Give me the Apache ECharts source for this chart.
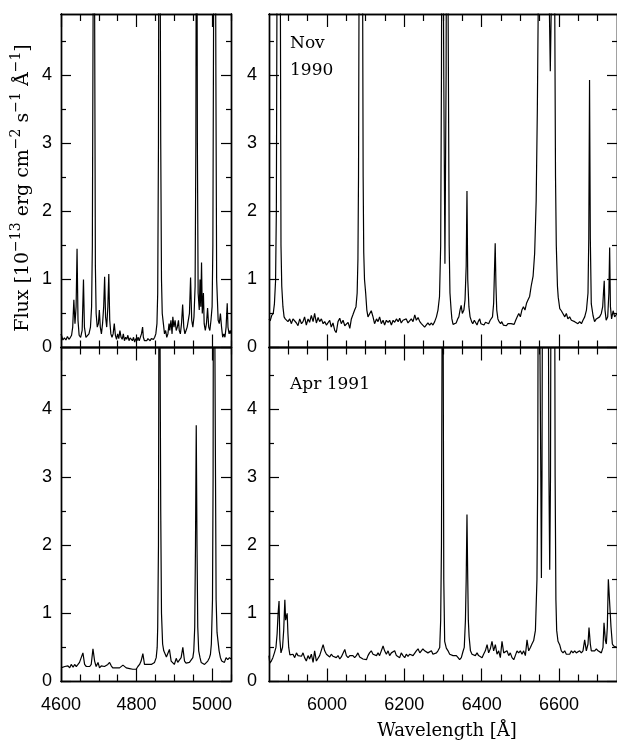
<!DOCTYPE html>
<html><head><meta charset="utf-8">
<script src="https://cdn.jsdelivr.net/npm/echarts@6/dist/echarts.min.js"></script>
<style>html,body{margin:0;padding:0;background:#fff}#c{width:617px;height:740px}</style>
</head><body><div id="c"></div>
<script>
// ---- data ----
const blueRange = [4600, 5050];
const redRange = [5850, 6750];
const fluxRange = [0, 4.9];
const blueMajorTicks = [4600, 4800, 5000];
const blueMinorTicks = [4650, 4700, 4750, 4850, 4900, 4950, 5050];
const redMajorTicks = [6000, 6200, 6400, 6600];
const redMinorTicks = [5900, 5950, 6050, 6100, 6150, 6250, 6300, 6350, 6450, 6500, 6550, 6650, 6700];
const fluxMajorTicks = [0, 1, 2, 3, 4];
const fluxMinorTicks = [0.5, 1.5, 2.5, 3.5, 4.5];
const epochLabels = ['Nov', '1990', 'Apr 1991'];
const xTitle = 'Wavelength [Å]';

const nov1990Blue = [[4600,0.2],[4602,0.22],[4605,0.11],[4609,0.14],[4613,0.11],[4617,0.16],[4621,0.12],[4625,0.15],[4628,0.18],[4631,0.3],[4634,0.7],[4637,0.35],[4640,0.6],[4642.5,1.45],[4645,0.4],[4648,0.18],[4652,0.15],[4656,0.25],[4659.5,1.0],[4662,0.3],[4666,0.15],[4670,0.16],[4674,0.2],[4678,0.3],[4681,0.6],[4683,1.5],[4685,5],[4687,9],[4689,5],[4691,1.2],[4693,0.5],[4696,0.3],[4699,0.35],[4701.5,0.55],[4704,0.3],[4707,0.2],[4710,0.35],[4713,0.6],[4715.5,1.04],[4718,0.45],[4721,0.3],[4724,0.6],[4726.5,1.08],[4729,0.4],[4732,0.2],[4735,0.15],[4738,0.2],[4741,0.35],[4744,0.18],[4747,0.12],[4750,0.2],[4753,0.13],[4756,0.25],[4759,0.15],[4762,0.12],[4765,0.2],[4768,0.1],[4771,0.15],[4774,0.12],[4777,0.18],[4780,0.1],[4783,0.14],[4786,0.12],[4789,0.1],[4792,0.15],[4795,0.08],[4798,0.13],[4801,0.1],[4804,0.15],[4807,0.1],[4810,0.12],[4813,0.2],[4816,0.3],[4818,0.15],[4821,0.1],[4824,0.12],[4827,0.1],[4830,0.13],[4833,0.12],[4836,0.1],[4839,0.13],[4842,0.11],[4845,0.12],[4848,0.15],[4851,0.2],[4854,0.35],[4856,0.8],[4858,3],[4860,10],[4862,10],[4864,3],[4866,1.0],[4868,0.5],[4871,0.35],[4874,0.2],[4877,0.25],[4880,0.15],[4883,0.2],[4886,0.35],[4888,0.25],[4891,0.4],[4894,0.2],[4896,0.45],[4899,0.3],[4902,0.4],[4905,0.25],[4908,0.3],[4911,0.4],[4913,0.25],[4916,0.2],[4919,0.35],[4922,0.63],[4925,0.3],[4928,0.2],[4931,0.25],[4934,0.3],[4937,0.3],[4940,0.5],[4943,1.03],[4946,0.4],[4949,0.3],[4952,0.45],[4955,0.9],[4957,3],[4959,9],[4961,3],[4963,0.8],[4966,0.55],[4968,1.0],[4970,0.6],[4972,1.25],[4974,0.5],[4977,0.8],[4979,0.35],[4982,0.25],[4985,0.35],[4988,0.58],[4991,0.3],[4994,0.25],[4997,0.4],[5000,0.6],[5002,1.5],[5004,5],[5006,12],[5008,12],[5010,4],[5012,1.0],[5014,0.7],[5016,0.4],[5019,0.35],[5022,0.5],[5025,0.3],[5028,0.15],[5031,0.2],[5034,0.15],[5037,0.3],[5040,0.65],[5042,0.3],[5045,0.2],[5048,0.25],[5050,0.2]];

const nov1990Red = [[5850,0.42],[5853,0.39],[5857,0.47],[5861,0.5],[5864,0.64],[5867,0.98],[5869,2],[5870.5,5],[5873,9],[5877,9],[5879.5,5],[5881,1.5],[5883,0.9],[5886,0.6],[5889,0.45],[5892,0.42],[5895,0.4],[5899,0.38],[5903.5,0.42],[5908,0.35],[5912,0.42],[5916.5,0.4],[5921,0.36],[5925,0.32],[5929.5,0.42],[5934,0.35],[5938,0.38],[5942,0.45],[5946.5,0.33],[5951,0.42],[5955,0.37],[5959.5,0.47],[5964,0.38],[5968,0.5],[5972.5,0.36],[5977,0.44],[5981,0.38],[5985.5,0.42],[5990,0.35],[5994,0.38],[5998.5,0.33],[6003,0.35],[6007,0.4],[6011,0.3],[6015.5,0.36],[6020,0.25],[6024,0.22],[6028.5,0.38],[6033,0.43],[6037,0.35],[6041.5,0.4],[6046,0.32],[6050,0.3],[6054.5,0.37],[6059,0.28],[6063,0.42],[6067,0.48],[6071.5,0.55],[6075,0.6],[6078,0.8],[6080,1.3],[6081.5,2.5],[6083,5.5],[6086,9],[6089,9],[6092,5.5],[6093.5,2.5],[6095,1.4],[6097,1.0],[6100,0.8],[6103,0.55],[6106,0.45],[6110,0.45],[6114.5,0.54],[6119,0.45],[6123,0.35],[6128,0.42],[6132,0.38],[6136,0.45],[6140.5,0.35],[6145,0.4],[6149,0.33],[6153.5,0.4],[6158,0.37],[6162,0.4],[6166.5,0.33],[6171,0.4],[6175,0.37],[6179.5,0.42],[6184,0.38],[6188,0.43],[6192,0.36],[6196.5,0.4],[6201,0.38],[6205,0.42],[6209.5,0.36],[6214,0.38],[6218,0.42],[6222.5,0.38],[6227,0.48],[6231,0.4],[6235.5,0.44],[6240,0.38],[6244,0.35],[6248,0.35],[6252.5,0.3],[6257,0.3],[6261,0.36],[6265.5,0.33],[6270,0.36],[6274,0.33],[6278.5,0.38],[6283,0.45],[6287,0.55],[6291,0.75],[6294,1.5],[6296,4],[6298,9],[6300,9],[6302,4],[6305,1.23],[6308,4],[6310,9],[6312,9],[6314,4],[6316,1.5],[6318,0.8],[6321,0.55],[6323,0.42],[6326,0.34],[6330,0.33],[6334,0.36],[6338,0.42],[6341,0.45],[6344,0.55],[6347,0.62],[6350,0.5],[6354,0.55],[6357,0.7],[6360,1.2],[6362,2.3],[6364,1.0],[6367,0.6],[6370,0.45],[6374,0.38],[6377,0.35],[6381,0.4],[6384,0.42],[6388,0.33],[6391,0.38],[6395,0.42],[6398,0.35],[6402,0.37],[6406,0.33],[6410,0.37],[6414,0.38],[6418,0.35],[6422,0.4],[6425,0.38],[6428,0.45],[6431,0.65],[6433,1.1],[6435,1.53],[6437,0.9],[6439,0.55],[6442,0.42],[6445,0.38],[6449,0.35],[6452,0.38],[6456,0.33],[6460,0.35],[6464,0.32],[6468,0.35],[6472,0.33],[6476,0.35],[6480,0.33],[6484,0.34],[6488,0.4],[6492,0.45],[6496,0.5],[6500,0.45],[6504,0.55],[6508,0.6],[6512,0.55],[6516,0.65],[6520,0.7],[6524,0.75],[6528,0.9],[6533,1.05],[6537,1.38],[6541,2.16],[6544,3.5],[6547,5.5],[6550,9],[6560,12],[6572,8],[6575,5],[6577.5,4.06],[6580,5],[6583,9],[6587,8],[6589,5],[6591,2.5],[6593,1.5],[6596,0.9],[6598,0.74],[6602,0.57],[6606,0.54],[6610,0.5],[6615,0.45],[6619,0.5],[6623,0.42],[6627.5,0.45],[6632,0.4],[6636,0.42],[6640.5,0.38],[6645,0.4],[6649,0.35],[6653.5,0.38],[6658,0.35],[6662,0.4],[6666.5,0.45],[6671,0.55],[6675,0.8],[6677,1.6],[6679,3.93],[6681,1.6],[6683.5,0.64],[6688,0.47],[6692,0.38],[6696.5,0.42],[6701,0.4],[6705,0.45],[6709.5,0.5],[6713,0.6],[6715,0.8],[6717,0.98],[6719,0.55],[6722,0.4],[6726,0.45],[6729,0.8],[6731,1.47],[6733,0.6],[6736,0.42],[6740,0.54],[6744,0.45],[6750,0.5]];

const apr1991Blue = [[4600,0.2],[4605,0.18],[4610,0.22],[4614,0.2],[4618.5,0.23],[4623,0.2],[4627,0.25],[4632,0.21],[4636,0.25],[4640.5,0.22],[4645,0.25],[4649,0.28],[4654,0.3],[4658,0.42],[4662.5,0.25],[4667,0.22],[4671,0.24],[4676,0.22],[4680,0.25],[4684.6,0.48],[4689,0.3],[4693,0.22],[4698,0.28],[4702,0.2],[4706.6,0.23],[4711,0.21],[4715,0.22],[4720,0.2],[4724,0.25],[4728.6,0.28],[4733,0.23],[4737,0.2],[4742,0.22],[4746,0.2],[4750.7,0.18],[4755,0.2],[4759.5,0.18],[4764,0.24],[4768,0.26],[4772.7,0.2],[4777,0.22],[4781.5,0.19],[4786,0.2],[4790,0.18],[4794.7,0.2],[4799,0.18],[4803.5,0.22],[4808,0.25],[4812,0.3],[4816.7,0.41],[4821,0.25],[4825.6,0.23],[4830,0.25],[4834,0.24],[4839,0.25],[4843,0.25],[4847.6,0.28],[4852,0.35],[4854.6,0.5],[4856,0.8],[4858,2],[4860,8],[4862.6,8],[4864,2.5],[4866,1.0],[4869,0.55],[4872,0.45],[4876,0.4],[4879,0.36],[4883,0.35],[4887,0.47],[4891.6,0.3],[4896,0.28],[4900,0.25],[4905,0.34],[4909,0.28],[4913.6,0.3],[4918,0.35],[4922.5,0.5],[4927,0.3],[4931,0.27],[4935.7,0.25],[4940,0.28],[4944.5,0.3],[4949,0.35],[4951.5,0.45],[4954,0.8],[4956,2],[4958,3.76],[4960,2],[4962,0.8],[4964.5,0.45],[4968,0.35],[4971,0.28],[4975,0.3],[4980,0.25],[4984,0.27],[4988.5,0.3],[4993,0.35],[4995.6,0.4],[4998,0.55],[5001,1.2],[5002.6,3],[5004,9],[5007,9],[5009,3],[5010.6,1.2],[5013,0.72],[5016,0.7],[5018.5,0.45],[5022,0.35],[5025.5,0.3],[5029,0.32],[5032.6,0.28],[5037,0.35],[5041.4,0.32],[5046,0.35],[5050,0.33]];

const apr1991Red = [[5850,0.38],[5852,0.27],[5856,0.3],[5860,0.35],[5864,0.42],[5868,0.5],[5871,0.7],[5873.5,1.0],[5876,1.18],[5878,0.62],[5881,0.42],[5885,0.5],[5888,0.75],[5891,1.2],[5893,0.9],[5895,0.95],[5897,1.0],[5899,0.7],[5901,0.5],[5904,0.39],[5908,0.38],[5912,0.4],[5916.5,0.35],[5921,0.42],[5925,0.38],[5929.5,0.4],[5934,0.37],[5938,0.42],[5942,0.35],[5946.5,0.3],[5951,0.38],[5955,0.33],[5959.5,0.4],[5964,0.28],[5968,0.45],[5972.5,0.3],[5977,0.28],[5981,0.38],[5985.5,0.4],[5990,0.54],[5994,0.45],[5998.5,0.4],[6003,0.42],[6007,0.36],[6011,0.4],[6015.5,0.37],[6020,0.38],[6024,0.35],[6028.5,0.38],[6033,0.33],[6037,0.36],[6041.5,0.38],[6046,0.47],[6050,0.38],[6054.5,0.35],[6059,0.38],[6063,0.36],[6067,0.38],[6071.5,0.35],[6076,0.38],[6080,0.42],[6084.5,0.36],[6089,0.38],[6093,0.33],[6097.5,0.35],[6102,0.32],[6106,0.38],[6110,0.42],[6114.5,0.45],[6119,0.4],[6123,0.42],[6128,0.38],[6132,0.42],[6136,0.38],[6140.5,0.4],[6145,0.52],[6149,0.45],[6153.5,0.4],[6158,0.45],[6162,0.38],[6166.5,0.42],[6171,0.4],[6175,0.45],[6179.5,0.38],[6184,0.4],[6188,0.35],[6192,0.42],[6196.5,0.38],[6201,0.35],[6205,0.4],[6209.5,0.37],[6214,0.4],[6218,0.42],[6222.5,0.38],[6227,0.4],[6231,0.45],[6235.5,0.48],[6240,0.42],[6244,0.45],[6248,0.48],[6252.5,0.45],[6257,0.47],[6261,0.42],[6265.5,0.4],[6270,0.45],[6274,0.4],[6278.5,0.38],[6283,0.42],[6287,0.45],[6291.5,0.5],[6294,0.9],[6296,2],[6297.5,5],[6299,10],[6300.5,5],[6302,1.5],[6304.3,0.59],[6308.6,0.49],[6313,0.45],[6317.3,0.4],[6321.6,0.42],[6326,0.38],[6330,0.36],[6334.5,0.38],[6339,0.35],[6343,0.32],[6347.4,0.35],[6351.7,0.44],[6355,0.5],[6358,0.9],[6360,1.5],[6362,2.45],[6364,1.5],[6365.5,0.9],[6367.5,0.66],[6371,0.45],[6375,0.4],[6379,0.42],[6383.6,0.38],[6388,0.42],[6392,0.38],[6396.6,0.4],[6401,0.35],[6405,0.4],[6409.5,0.45],[6414,0.54],[6418,0.42],[6422.4,0.48],[6426.7,0.59],[6431,0.45],[6435.4,0.54],[6439.7,0.4],[6444,0.45],[6448.3,0.35],[6452.6,0.59],[6457,0.42],[6461,0.4],[6465.5,0.45],[6470,0.38],[6474,0.42],[6478.5,0.35],[6483,0.32],[6487,0.38],[6491.4,0.45],[6495.7,0.42],[6500,0.45],[6504.3,0.4],[6508.6,0.45],[6513,0.38],[6517.3,0.61],[6521.6,0.45],[6526,0.5],[6530,0.55],[6534.5,0.6],[6539,0.75],[6543,1.5],[6545,3],[6547,8],[6551,8],[6553,3],[6554.5,1.52],[6556,3],[6558,8],[6571,8],[6574,3],[6576,1.64],[6578,3],[6580,8],[6588,8],[6590,3],[6592,1.2],[6594,0.75],[6597.4,0.59],[6601.7,0.54],[6606,0.45],[6610.4,0.42],[6614.7,0.45],[6619,0.4],[6623.3,0.42],[6627.6,0.4],[6632,0.45],[6636.2,0.42],[6640.5,0.45],[6644.8,0.42],[6649,0.44],[6653.5,0.45],[6657.8,0.42],[6662,0.45],[6666.4,0.61],[6670.7,0.45],[6675,0.55],[6677.6,0.79],[6681,0.55],[6683.6,0.45],[6688,0.47],[6692.3,0.45],[6696.6,0.48],[6701,0.45],[6705,0.45],[6709.5,0.42],[6713.8,0.5],[6716.4,0.86],[6720,0.6],[6722.4,0.55],[6725,0.8],[6727.6,1.5],[6732,1.52],[6734.5,0.8],[6738,0.55],[6741.4,0.52],[6745,0.5],[6750,0.5]];

// ---- chart ----
const chart = echarts.init(document.getElementById('c'), null, {renderer: 'canvas'});
const black = '#000';
const grids = [
  {left: 61, top: 14, width: 170, height: 333.5},
  {left: 269, top: 14, width: 348, height: 333.5},
  {left: 61, top: 347.5, width: 170, height: 334},
  {left: 269, top: 347.5, width: 348, height: 334}
];
const panels = [
  {data: nov1990Blue, range: blueRange, major: blueMajorTicks, minor: blueMinorTicks, showX: false, yMargin: 9},
  {data: nov1990Red, range: redRange, major: redMajorTicks, minor: redMinorTicks, showX: false, yMargin: 12},
  {data: apr1991Blue, range: blueRange, major: blueMajorTicks, minor: blueMinorTicks, showX: true, yMargin: 9},
  {data: apr1991Red, range: redRange, major: redMajorTicks, minor: redMinorTicks, showX: true, yMargin: 12}
];
const labelFont = {fontSize: 18, color: black, fontFamily: '"Liberation Sans", Arial, sans-serif'};
const plain = v => String(v);
const xAxes = [], yAxes = [], series = [];
function tick(len, vals) {
  return {show: true, inside: true, length: len, customValues: vals, lineStyle: {color: black, width: 1.2}};
}
panels.forEach((p, g) => {
  const line = {show: true, onZero: false, lineStyle: {color: black, width: 1.4}};
  const xb = {type: 'value', gridIndex: g, min: p.range[0], max: p.range[1], splitLine: {show: false}, axisLine: line};
  const xi = xAxes.length;
  xAxes.push(Object.assign({}, xb, {position: 'bottom', axisTick: tick(13, p.major),
    axisLabel: Object.assign({show: p.showX, customValues: p.major, margin: 15, formatter: plain}, labelFont)}));
  xAxes.push(Object.assign({}, xb, {position: 'bottom', axisTick: tick(7, p.minor), axisLabel: {show: false}}));
  xAxes.push(Object.assign({}, xb, {position: 'top', axisTick: tick(13, p.major), axisLabel: {show: false}}));
  xAxes.push(Object.assign({}, xb, {position: 'top', axisTick: tick(7, p.minor), axisLabel: {show: false}}));
  const yb = {type: 'value', gridIndex: g, min: fluxRange[0], max: fluxRange[1], splitLine: {show: false}, axisLine: line};
  const yi = yAxes.length;
  yAxes.push(Object.assign({}, yb, {position: 'left', axisTick: tick(10, fluxMajorTicks),
    axisLabel: Object.assign({show: true, customValues: fluxMajorTicks, margin: p.yMargin, padding: [8, 0, 0, 0], formatter: plain}, labelFont)}));
  yAxes.push(Object.assign({}, yb, {position: 'left', axisTick: tick(5, fluxMinorTicks), axisLabel: {show: false}}));
  yAxes.push(Object.assign({}, yb, {position: 'right', axisTick: tick(10, fluxMajorTicks), axisLabel: {show: false}}));
  yAxes.push(Object.assign({}, yb, {position: 'right', axisTick: tick(5, fluxMinorTicks), axisLabel: {show: false}}));
  series.push({type: 'line', xAxisIndex: xi, yAxisIndex: yi, data: p.data, showSymbol: false, symbol: 'none',
    clip: true, lineStyle: {color: black, width: 1.2}, animation: false, silent: true});
});

const serif = '"DejaVu Serif", serif';
chart.setOption({
  animation: false,
  backgroundColor: '#fff',
  grid: grids,
  xAxis: xAxes,
  yAxis: yAxes,
  series: series,
  graphic: [
    {type: 'text', x: 290, y: 44, style: {text: epochLabels[0], font: '17px ' + serif, fill: black, textVerticalAlign: 'middle', verticalAlign: 'middle'}},
    {type: 'text', x: 290, y: 70.5, style: {text: epochLabels[1], font: '17px ' + serif, fill: black, textVerticalAlign: 'middle', verticalAlign: 'middle'}},
    {type: 'text', x: 290, y: 384.5, style: {text: epochLabels[2], font: '17px ' + serif, fill: black, textVerticalAlign: 'middle', verticalAlign: 'middle'}},
    {type: 'text', x: 447, y: 731, style: {text: xTitle, font: '18px ' + serif, fill: black, textAlign: 'center', align: 'center', textVerticalAlign: 'middle', verticalAlign: 'middle'}},
    {type: 'text', x: 21, y: 188, rotation: Math.PI / 2, style: {
      text: '{a|Flux [10}{s|−13}{a| erg cm}{s|−2}{a| s}{s|−1}{a| Å}{s|−1}{a|]}',
      textAlign: 'center', align: 'center', textVerticalAlign: 'middle', verticalAlign: 'middle', fill: black,
      rich: {
        a: {fontFamily: serif, fontSize: 19, lineHeight: 24, color: black, verticalAlign: 'bottom'},
        s: {fontFamily: serif, fontSize: 14, lineHeight: 24, color: black, verticalAlign: 'top'}
      }
    }}
  ]
});
</script>
</body></html>
